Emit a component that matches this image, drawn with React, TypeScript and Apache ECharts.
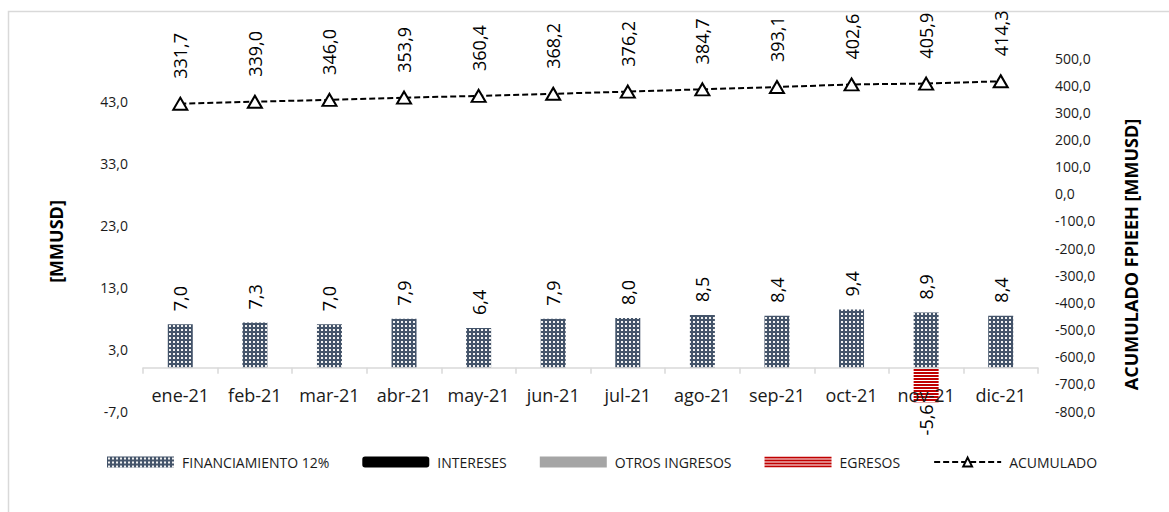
import React, { useEffect, useRef } from "react";
import * as echarts from "echarts";

const months = ["ene-21", "feb-21", "mar-21", "abr-21", "may-21", "jun-21", "jul-21", "ago-21", "sep-21", "oct-21", "nov-21", "dic-21"];
const financiamiento = [7.0, 7.3, 7.0, 7.9, 6.4, 7.9, 8.0, 8.5, 8.4, 9.4, 8.9, 8.4];
const intereses = [0, 0, 0, 0, 0, 0, 0, 0, 0, 0, 0, 0];
const otrosIngresos = [0, 0, 0, 0, 0, 0, 0, 0, 0, 0, 0, 0];
const egresos = [0, 0, 0, 0, 0, 0, 0, 0, 0, 0, -5.6, 0];
const acumulado = [331.7, 339.0, 346.0, 353.9, 360.4, 368.2, 376.2, 384.7, 393.1, 402.6, 405.9, 414.3];

const leftAxisRange = { min: -7, max: 50, interval: 10 };
const rightAxisRange = { min: -800, max: 500, interval: 100 };

const FONT = "Open Sans";
const fmt = (v: number) => v.toFixed(1).replace(".", ",");

const GRID_TOP = 58;
const GRID_BOTTOM = 101;
const PLOT_H = 512 - GRID_TOP - GRID_BOTTOM;
// distance from plot bottom to the zero line of the left axis
const ZERO_OFFSET = (-leftAxisRange.min / (leftAxisRange.max - leftAxisRange.min)) * PLOT_H;

function makeDots(): HTMLCanvasElement {
  const c = document.createElement("canvas");
  c.width = 4;
  c.height = 4;
  const ctx = c.getContext("2d")!;
  ctx.fillStyle = "#44546A";
  ctx.fillRect(0, 0, 4, 4);
  ctx.fillStyle = "#f2f2f2";
  ctx.fillRect(1, 1, 2, 2);
  return c;
}

function makeStripes(): HTMLCanvasElement {
  const c = document.createElement("canvas");
  c.width = 4;
  c.height = 3;
  const ctx = c.getContext("2d")!;
  ctx.fillStyle = "#ffffff";
  ctx.fillRect(0, 0, 4, 3);
  ctx.fillStyle = "#C00000";
  ctx.fillRect(0, 0, 4, 2);
  return c;
}

export default function App() {
  const ref = useRef<HTMLDivElement>(null);

  useEffect(() => {
    if (!ref.current) return;
    const chart = echarts.init(ref.current, undefined, { renderer: "svg" });
    const dots = { image: makeDots(), repeat: "repeat" };
    const stripes = { image: makeStripes(), repeat: "repeat" };

    chart.setOption({
      animation: false,
      textStyle: { fontFamily: FONT },
      graphic: [
        {
          type: "rect",
          silent: true,
          z: -10,
          shape: { x: 8.5, y: 11.5, width: 1200, height: 600 },
          style: { fill: "none", stroke: "#d9d9d9", lineWidth: 1.5 },
        },
      ],
      grid: { left: 143, right: 131, top: GRID_TOP, bottom: GRID_BOTTOM, containLabel: false },
      legend: {
        left: 102,
        top: 450,
        itemWidth: 67,
        itemHeight: 11,
        itemGap: 33,
        textStyle: { fontSize: 14, color: "#1a1a1a", fontFamily: FONT, padding: [0, 0, 0, 3] },
        data: [
          { name: "FINANCIAMIENTO 12%", icon: "rect" },
          { name: "INTERESES", icon: "roundRect" },
          { name: "OTROS INGRESOS", icon: "rect" },
          { name: "EGRESOS", icon: "rect" },
          { name: "ACUMULADO" },
        ],
      },
      xAxis: {
        type: "category",
        data: months,
        z: 10,
        offset: -ZERO_OFFSET,
        axisLine: { onZero: false, lineStyle: { color: "#d9d9d9", width: 1.5 } },
        axisTick: { show: true, length: 6, interval: 0, lineStyle: { color: "#d9d9d9", width: 1.5 } },
        axisLabel: { fontSize: 18, color: "#1a1a1a", fontFamily: FONT, margin: 18, interval: 0 },
      },
      yAxis: [
        {
          type: "value",
          min: leftAxisRange.min,
          max: leftAxisRange.max,
          interval: leftAxisRange.interval,
          name: "[MMUSD]",
          nameLocation: "middle",
          nameRotate: 90,
          nameGap: 78,
          nameTextStyle: {
            fontSize: 18,
            fontWeight: "bold",
            color: "#000",
            fontFamily: FONT,
            padding: [0, 14, 0, 0],
          },
          axisLine: { show: false },
          axisTick: { show: false },
          splitLine: { show: false },
          axisLabel: {
            fontSize: 14,
            color: "#1a1a1a",
            fontFamily: FONT,
            margin: 15,
            formatter: (v: number) => (v === leftAxisRange.max ? "" : fmt(v)),
          },
        },
        {
          type: "value",
          position: "right",
          min: rightAxisRange.min,
          max: rightAxisRange.max,
          interval: rightAxisRange.interval,
          name: "ACUMULADO FPIEEH [MMUSD]",
          nameLocation: "middle",
          nameRotate: 90,
          nameGap: 84,
          nameTextStyle: {
            fontSize: 18,
            fontWeight: "bold",
            color: "#000",
            fontFamily: FONT,
            padding: [0, 40, 0, 0],
          },
          axisLine: { show: false },
          axisTick: { show: false },
          splitLine: { show: false },
          axisLabel: {
            fontSize: 14,
            color: "#1a1a1a",
            fontFamily: FONT,
            margin: 17,
            formatter: (v: number) => fmt(v),
          },
        },
      ],
      series: [
        {
          name: "FINANCIAMIENTO 12%",
          type: "bar",
          stack: "total",
          barWidth: 25,
          data: financiamiento,
          itemStyle: { color: dots },
          label: {
            show: true,
            position: "top",
            rotate: 90,
            align: "left",
            verticalAlign: "middle",
            distance: 13,
            fontSize: 18,
            fontFamily: FONT,
            color: "#000",
            formatter: (p: any) => fmt(p.value),
          },
        },
        {
          name: "INTERESES",
          type: "bar",
          stack: "total",
          barWidth: 25,
          data: intereses,
          itemStyle: { color: "#000000" },
        },
        {
          name: "OTROS INGRESOS",
          type: "bar",
          stack: "total",
          barWidth: 25,
          data: otrosIngresos,
          itemStyle: { color: "#A5A5A5" },
        },
        {
          name: "EGRESOS",
          type: "bar",
          stack: "total",
          barWidth: 25,
          data: egresos,
          z: 1,
          itemStyle: { color: stripes },
          label: {
            show: true,
            position: "bottom",
            rotate: 90,
            align: "right",
            verticalAlign: "middle",
            distance: 2,
            fontSize: 18,
            fontFamily: FONT,
            color: "#000",
            formatter: (p: any) => (p.value === 0 ? "" : fmt(p.value)),
          },
        },
        {
          name: "ACUMULADO",
          type: "line",
          yAxisIndex: 1,
          data: acumulado,
          symbol: "triangle",
          symbolSize: [14, 12],
          showAllSymbol: true,
          lineStyle: { color: "#000", width: 2, type: [6, 3] },
          itemStyle: { color: "#ffffff", borderColor: "#000", borderWidth: 2 },
          label: {
            show: true,
            position: "top",
            rotate: 90,
            align: "left",
            verticalAlign: "middle",
            distance: 18,
            fontSize: 18,
            fontFamily: FONT,
            color: "#000",
            formatter: (p: any) => fmt(p.value),
          },
          z: 4,
        },
      ],
    });

    return () => chart.dispose();
  }, []);

  return (
    <div
      ref={ref}
      style={{ position: "absolute", left: 0, top: 0, width: 1169, height: 512, background: "#fff" }}
    />
  );
}
